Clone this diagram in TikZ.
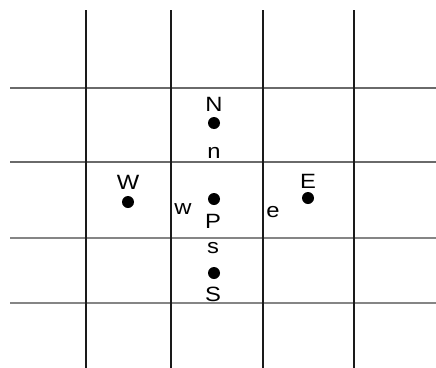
\documentclass[tikz,border=0pt]{standalone}
\usepackage{fontspec}
\setmainfont{Liberation Sans}
\definecolor{gridvert}{HTML}{1A1A1A}
\definecolor{gridhoriz}{HTML}{6A6A6A}
\definecolor{gridfaint}{HTML}{858585}
\tikzset{
  vline/.style={draw=gridvert, line width=1.7pt},
  hline/.style={draw=gridhoriz, line width=1.8pt},
  hlinefaint/.style={hline, draw=gridfaint},
  gridpoint/.style={circle, fill=black, inner sep=0pt, minimum size=9pt},
  pointlabel/.style={font=\fontsize{15.5}{16}\selectfont, inner sep=0pt, xscale=1.15}
}

\begin{document}
\begin{tikzpicture}[x=0.75pt, y=-0.75pt]
\useasboundingbox (0,0) rectangle (436,368);

% grid lines, horizontals first
\foreach \gy in {88, 162}
  \draw[hline] (10, \gy) -- (436, \gy);
\foreach \gy in {238, 303}
  \draw[hlinefaint] (10, \gy) -- (436, \gy);
\foreach \gx in {86, 171, 263, 354}
  \draw[vline] (\gx, 10) -- (\gx, 368);

% grid points
\node[gridpoint] (P) at (214, 199) {};
\node[gridpoint] (N) at (214, 123) {};
\node[gridpoint] (S) at (214, 273) {};
\node[gridpoint] (W) at (128, 202) {};
\node[gridpoint] (E) at (308, 198) {};

% point and face labels
\node[pointlabel] (Nlabel) at (214, 104) {N};
\node[pointlabel] (nface) at (214, 153) {n};
\node[pointlabel] (Wlabel) at (128, 182) {W};
\node[pointlabel] (wface) at (183, 209) {w};
\node[pointlabel] (Plabel) at (213, 221.5) {P};
\node[pointlabel] (sface) at (213, 248) {s};
\node[pointlabel] (Slabel) at (213, 294) {S};
\node[pointlabel] (Elabel) at (308, 181) {E};
\node[pointlabel] (eface) at (273, 212.5) {e};

\end{tikzpicture}
\end{document}
